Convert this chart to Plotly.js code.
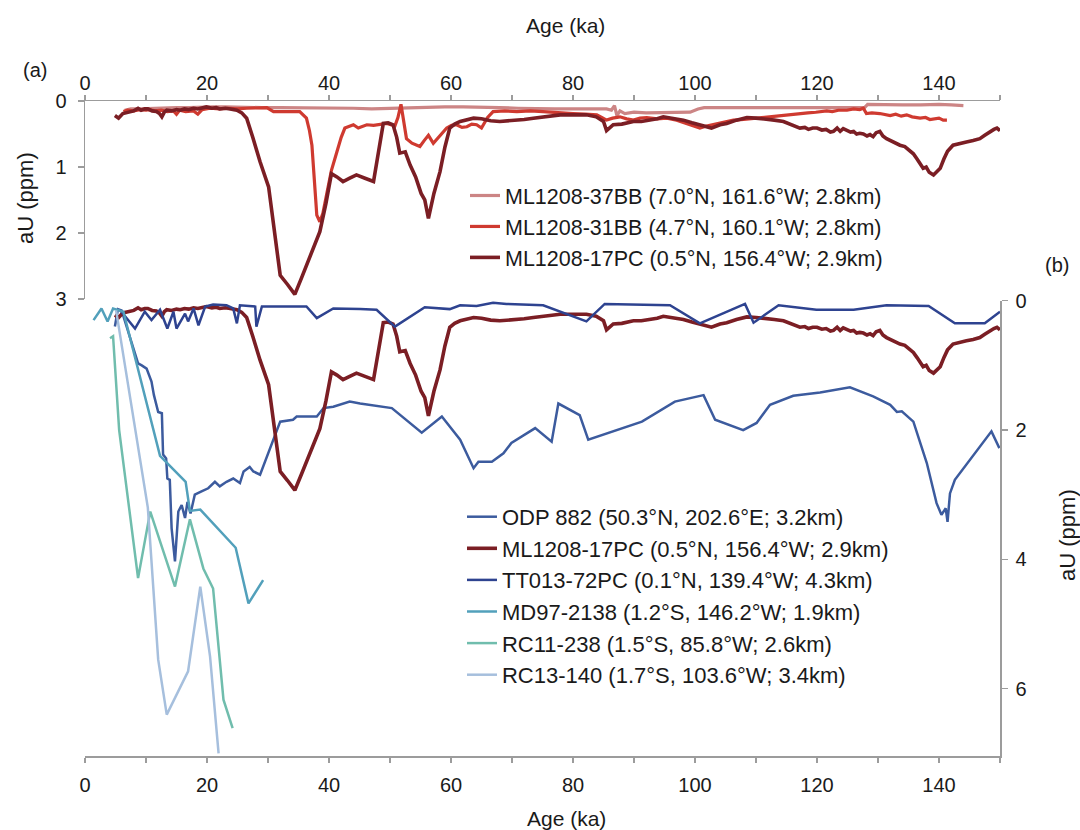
<!DOCTYPE html>
<html><head><meta charset="utf-8">
<script src="https://cdn.plot.ly/plotly-3.0.1.min.js"></script>
<style>html,body{margin:0;padding:0;background:#fff}#chart{width:1080px;height:830px}</style>
</head><body><div id="chart"></div>
<script>
// ---- Data: [age (ka), aU (ppm)] ----
const ml37BB = [[6.5,0.14],[7.5,0.12],[9.0,0.12],[11.0,0.11],[13.0,0.11],[15.0,0.1],[17.0,0.1],[19.0,0.09],[21.0,0.09],[23.0,0.09],[26.0,0.1],[29.0,0.1],[32.0,0.1],[35.0,0.1],[38.0,0.1],[41.0,0.11],[44.0,0.11],[47.0,0.12],[50.0,0.11],[53.0,0.1],[56.0,0.1],[59.0,0.09],[62.0,0.09],[65.0,0.09],[68.0,0.1],[71.0,0.11],[74.0,0.12],[77.0,0.12],[80.0,0.12],[83.0,0.12],[85.5,0.12],[86.3,0.14],[86.8,0.07],[87.2,0.22],[87.7,0.15],[88.5,0.19],[90.0,0.17],[92.0,0.18],[94.0,0.18],[96.0,0.18],[98.0,0.18],[99.2,0.17],[100.5,0.12],[101.5,0.1],[104.0,0.1],[107.0,0.1],[110.0,0.1],[113.0,0.1],[116.0,0.1],[119.0,0.1],[122.0,0.1],[125.0,0.1],[127.8,0.1],[128.3,0.05],[131.0,0.06],[134.0,0.06],[137.0,0.06],[140.0,0.05],[142.0,0.06],[144.0,0.07]];

const ml31BB = [[6.3,0.16],[7.0,0.14],[8.0,0.15],[9.0,0.13],[10.0,0.14],[10.5,0.13],[11.5,0.15],[12.5,0.14],[13.5,0.16],[14.5,0.15],[15.0,0.2],[15.5,0.14],[16.5,0.16],[17.8,0.15],[18.5,0.2],[19.2,0.13],[20.5,0.11],[22.0,0.12],[23.5,0.11],[25.0,0.12],[26.5,0.11],[28.0,0.1],[29.8,0.1],[30.9,0.16],[32.5,0.16],[34.0,0.16],[35.2,0.16],[36.3,0.26],[36.8,0.45],[37.2,0.67],[37.4,0.92],[37.7,1.22],[38.0,1.73],[38.5,1.83],[39.0,1.7],[39.6,1.42],[40.4,1.05],[41.3,0.77],[42.0,0.55],[42.6,0.41],[43.3,0.38],[44.0,0.36],[44.8,0.41],[45.5,0.38],[46.2,0.36],[47.3,0.37],[48.4,0.36],[49.5,0.34],[50.8,0.38],[51.3,0.25],[51.8,0.05],[52.3,0.35],[52.7,0.57],[53.6,0.64],[54.9,0.69],[55.6,0.6],[56.3,0.52],[57.1,0.64],[58.2,0.52],[59.3,0.41],[60.1,0.37],[60.9,0.36],[61.8,0.4],[62.6,0.39],[63.4,0.35],[64.2,0.36],[65.0,0.41],[66.0,0.25],[66.9,0.16],[68.8,0.15],[70.8,0.16],[73.0,0.15],[75.1,0.16],[77.5,0.18],[80.0,0.19],[82.0,0.2],[83.9,0.21],[84.7,0.25],[85.5,0.29],[86.5,0.26],[87.7,0.24],[88.8,0.27],[89.9,0.29],[91.0,0.26],[92.1,0.25],[93.8,0.27],[95.4,0.26],[97.0,0.29],[98.6,0.34],[99.7,0.38],[100.8,0.41],[101.9,0.38],[103.0,0.36],[104.5,0.33],[106.3,0.29],[108.0,0.28],[109.9,0.26],[111.7,0.25],[113.0,0.23],[114.5,0.21],[116.0,0.2],[117.2,0.19],[118.5,0.18],[119.8,0.17],[121.6,0.15],[122.5,0.16],[123.5,0.14],[124.9,0.14],[126.0,0.12],[127.0,0.13],[127.6,0.11],[128.1,0.19],[129.0,0.18],[130.3,0.19],[131.2,0.21],[132.0,0.22],[132.9,0.2],[133.8,0.23],[134.7,0.21],[135.6,0.24],[136.9,0.26],[137.8,0.25],[138.5,0.28],[139.1,0.27],[140.0,0.26],[140.7,0.29],[141.3,0.29]];

const ml17PC = [[4.9,0.22],[5.5,0.26],[6.2,0.19],[6.7,0.18],[7.4,0.16],[8.0,0.15],[8.7,0.11],[9.2,0.14],[9.8,0.12],[10.3,0.12],[11.0,0.15],[11.7,0.16],[12.2,0.19],[12.6,0.24],[13.0,0.17],[13.4,0.14],[14.2,0.15],[15.0,0.13],[15.6,0.14],[16.3,0.12],[17.0,0.13],[17.8,0.11],[18.5,0.12],[19.2,0.1],[19.9,0.09],[20.8,0.11],[21.5,0.1],[22.1,0.12],[23.0,0.11],[23.8,0.12],[24.9,0.14],[25.7,0.18],[26.5,0.26],[27.5,0.55],[28.7,0.92],[30.1,1.3],[31.0,1.9],[32.0,2.64],[33.2,2.78],[34.4,2.93],[35.5,2.68],[36.8,2.38],[38.5,1.98],[39.5,1.55],[40.4,1.1],[41.3,1.15],[42.3,1.22],[43.4,1.17],[44.5,1.12],[45.9,1.17],[47.3,1.22],[48.9,0.34],[49.7,0.33],[50.5,0.36],[51.1,0.55],[51.6,0.79],[52.5,0.77],[53.3,0.97],[54.2,1.15],[55.1,1.4],[55.7,1.5],[56.3,1.78],[57.2,1.4],[58.2,1.07],[59.0,0.7],[59.8,0.41],[60.6,0.35],[61.5,0.31],[62.6,0.28],[63.7,0.26],[65.0,0.27],[66.5,0.3],[68.0,0.31],[70.0,0.3],[72.0,0.28],[73.5,0.26],[75.5,0.24],[77.9,0.21],[80.0,0.21],[82.2,0.21],[83.8,0.24],[85.0,0.31],[85.5,0.45],[86.0,0.4],[86.6,0.36],[88.0,0.35],[89.9,0.31],[91.2,0.31],[92.6,0.29],[93.8,0.27],[94.8,0.24],[96.5,0.27],[98.1,0.29],[99.5,0.33],[100.8,0.36],[101.8,0.39],[102.7,0.41],[104.1,0.36],[105.2,0.34],[106.8,0.29],[108.5,0.25],[110.0,0.26],[111.7,0.27],[113.0,0.29],[114.5,0.31],[115.8,0.36],[117.2,0.41],[118.0,0.4],[118.6,0.43],[119.3,0.41],[120.0,0.41],[120.8,0.44],[121.5,0.43],[122.2,0.47],[122.7,0.46],[123.3,0.41],[123.8,0.46],[124.3,0.42],[124.9,0.44],[125.5,0.47],[126.0,0.46],[126.5,0.5],[127.0,0.49],[127.6,0.5],[128.2,0.53],[128.7,0.51],[129.2,0.54],[129.7,0.48],[130.3,0.46],[130.8,0.53],[131.4,0.57],[132.0,0.6],[132.8,0.63],[133.6,0.67],[134.4,0.69],[135.0,0.74],[135.8,0.8],[136.4,0.88],[137.0,0.97],[137.4,1.02],[137.9,1.0],[138.4,1.08],[139.1,1.12],[139.6,1.07],[140.2,1.02],[140.8,0.88],[141.4,0.76],[142.3,0.67],[143.4,0.64],[144.5,0.62],[145.6,0.6],[146.7,0.57],[147.5,0.52],[148.4,0.46],[149.0,0.43],[149.5,0.41],[150.0,0.45]];

const odp882 = [[4.9,0.4],[5.4,0.13],[6.0,0.15],[8.7,0.97],[9.3,1.0],[10.1,1.05],[10.9,1.25],[11.3,1.46],[12.0,1.72],[12.6,1.74],[12.8,2.38],[13.3,2.44],[13.5,2.75],[13.9,2.77],[14.2,3.52],[14.75,4.03],[15.3,3.26],[15.85,3.16],[16.4,3.36],[16.8,3.11],[17.3,3.29],[18.0,3.0],[19.1,2.95],[20.2,2.9],[21.3,2.8],[22.1,2.87],[23.2,2.8],[24.3,2.75],[25.4,2.82],[26.0,2.64],[27.0,2.57],[27.6,2.64],[28.7,2.69],[32.0,1.87],[34.1,1.84],[34.7,1.79],[38.0,1.79],[39.1,1.66],[40.7,1.64],[43.4,1.56],[45.1,1.59],[50.3,1.66],[55.2,2.04],[58.5,1.79],[61.5,2.15],[63.7,2.59],[64.5,2.49],[66.7,2.49],[68.6,2.36],[69.9,2.2],[73.8,1.97],[76.5,2.18],[77.6,1.59],[81.1,1.77],[82.5,2.15],[91.3,1.87],[96.7,1.56],[101.4,1.46],[103.3,1.84],[107.9,2.0],[110.1,1.89],[112.3,1.61],[116.1,1.47],[120.5,1.42],[125.4,1.34],[129.2,1.48],[132.0,1.61],[133.1,1.72],[133.9,1.71],[135.8,1.87],[138.0,2.51],[139.6,3.13],[140.4,3.31],[141.1,3.21],[141.4,3.42],[141.8,2.98],[142.6,2.77],[148.6,2.02],[149.9,2.28]];

const tt013 = [[5.7,0.14],[8.2,0.43],[9.8,0.17],[10.9,0.3],[12.3,0.14],[13.5,0.43],[14.5,0.17],[15.0,0.43],[16.4,0.2],[16.9,0.32],[17.8,0.12],[18.6,0.38],[19.7,0.09],[21.0,0.06],[23.2,0.07],[24.3,0.12],[24.9,0.35],[25.4,0.07],[27.9,0.09],[28.1,0.4],[29.0,0.09],[32.0,0.09],[36.3,0.09],[38.0,0.27],[40.7,0.12],[45.1,0.13],[47.8,0.14],[50.8,0.4],[55.7,0.1],[59.8,0.13],[61.5,0.07],[64.2,0.08],[66.9,0.03],[69.1,0.05],[75.1,0.07],[82.2,0.32],[85.2,0.05],[95.9,0.07],[100.8,0.35],[108.2,0.05],[109.6,0.34],[113.7,0.07],[119.9,0.14],[126.0,0.14],[131.4,0.07],[138.3,0.08],[142.6,0.35],[147.5,0.35],[150.0,0.17]];

const md97 = [[1.4,0.3],[2.7,0.12],[3.7,0.32],[4.6,0.12],[6.3,0.17],[12.3,2.4],[16.5,2.8],[17.2,3.25],[18.9,3.23],[24.7,3.82],[26.8,4.68],[29.2,4.32]];

const rc11 = [[4.1,0.58],[4.6,0.55],[5.6,2.0],[8.7,4.29],[10.7,3.26],[14.75,4.42],[17.2,3.38],[19.4,4.14],[21.0,4.45],[22.7,6.17],[24.2,6.61]];

const rc13 = [[5.1,0.15],[10.3,3.2],[12.0,5.55],[13.4,6.4],[16.9,5.73],[18.9,4.42],[20.5,5.5],[21.9,7.0]];

// ---- Labels / ticks ----
const namesTop = ['ML1208-37BB (7.0°N, 161.6°W; 2.8km)','ML1208-31BB (4.7°N, 160.1°W; 2.8km)','ML1208-17PC (0.5°N, 156.4°W; 2.9km)'];
const namesBottom = ['ODP 882 (50.3°N, 202.6°E; 3.2km)','ML1208-17PC (0.5°N, 156.4°W; 2.9km)','TT013-72PC (0.1°N, 139.4°W; 4.3km)','MD97-2138 (1.2°S, 146.2°W; 1.9km)','RC11-238 (1.5°S, 85.8°W; 2.6km)','RC13-140 (1.7°S, 103.6°W; 3.4km)'];
const ageTicks = [0,10,20,30,40,50,60,70,80,90,100,110,120,130,140,150];
const ageLabels = ['0','','20','','40','','60','','80','','100','','120','','140',''];
const topYTicks = [0,1,2,3];
const botYTicks = [0,2,4,6];

const FONT = 'Liberation Sans, Arial, Helvetica, sans-serif';
const AX = '#9c9c9c';
const xs = d => d.map(p => p[0]);
const ys = d => d.map(p => p[1]);

function tr(d, name, color, width, xa, ya, leg) {
  return {x: xs(d), y: ys(d), name: name, type: 'scatter', mode: 'lines',
    line: {color: color, width: width}, xaxis: xa, yaxis: ya, legend: leg, hoverinfo: 'skip'};
}

const data = [
  tr(ml37BB, namesTop[0], '#cc8585', 3.2, 'x2', 'y2', 'legend'),
  tr(ml31BB, namesTop[1], '#cf3a30', 3.2, 'x2', 'y2', 'legend'),
  tr(ml17PC, namesTop[2], '#7b1e24', 3.6, 'x2', 'y2', 'legend'),
  tr(odp882, namesBottom[0], '#3c5b9e', 2.5, 'x', 'y', 'legend2'),
  tr(ml17PC, namesBottom[1], '#7b1e24', 3.6, 'x', 'y', 'legend2'),
  tr(tt013, namesBottom[2], '#2e4390', 2.5, 'x', 'y', 'legend2'),
  tr(md97, namesBottom[3], '#52a0bb', 2.5, 'x', 'y', 'legend2'),
  tr(rc11, namesBottom[4], '#70bdad', 2.5, 'x', 'y', 'legend2'),
  tr(rc13, namesBottom[5], '#a6bfdd', 2.5, 'x', 'y', 'legend2')
];

const axCommon = {showgrid: false, zeroline: false, showline: true, linecolor: AX, linewidth: 1.5,
  ticks: 'outside', tickcolor: AX, tickwidth: 1.5, fixedrange: true,
  tickfont: {family: FONT, size: 20, color: '#1a1a1a'}};

function ann(text, x, y, size, extra) {
  return Object.assign({text: text, x: x, y: y, xref: 'paper', yref: 'paper', showarrow: false,
    xanchor: 'center', yanchor: 'middle', font: {family: FONT, size: size, color: '#1a1a1a'}}, extra || {});
}

const layout = {
  width: 1080, height: 830,
  margin: {l: 85, r: 80, t: 101, b: 74},
  paper_bgcolor: '#ffffff', plot_bgcolor: 'rgba(0,0,0,0)',
  font: {family: FONT, size: 20, color: '#1a1a1a'},
  showlegend: true,
  xaxis: Object.assign({}, axCommon, {domain: [0, 1], anchor: 'y', side: 'bottom', range: [0, 150],
    tickmode: 'array', tickvals: ageTicks, ticktext: ageLabels, ticklen: 5, ticklabelstandoff: 5}),
  yaxis: Object.assign({}, axCommon, {domain: [0, 0.6951], anchor: 'x', side: 'right', range: [7.04, 0],
    tickmode: 'array', tickvals: botYTicks, ticklen: 6, ticklabelstandoff: 4}),
  xaxis2: Object.assign({}, axCommon, {domain: [0, 1], anchor: 'y2', side: 'top', range: [0, 150],
    tickmode: 'array', tickvals: ageTicks, ticktext: ageLabels, ticklen: 5, ticklabelstandoff: -3}),
  yaxis2: Object.assign({}, axCommon, {domain: [0.6977, 1], anchor: 'x2', side: 'left', range: [3, 0],
    tickmode: 'array', tickvals: topYTicks, ticklen: 6, ticklabelstandoff: 7}),
  legend: {x: 0.4153, y: 0.887, xanchor: 'left', yanchor: 'top', bgcolor: 'rgba(0,0,0,0)',
    borderwidth: 0, tracegroupgap: 0, font: {family: FONT, size: 21.5, color: '#1a1a1a'}},
  legend2: {x: 0.412, y: 0.3971, xanchor: 'left', yanchor: 'top', bgcolor: 'rgba(0,0,0,0)',
    borderwidth: 0, tracegroupgap: 0, font: {family: FONT, size: 22, color: '#1a1a1a'}},
  annotations: [
    ann('Age (ka)', 0.5246, 1.116, 21),
    ann('Age (ka)', 0.5257, -0.0947, 21),
    ann('aU (ppm)', -0.0656, 0.8519, 22, {textangle: -90}),
    ann('aU (ppm)', 1.0732, 0.3374, 22, {textangle: -90}),
    ann('(a)', -0.0546, 1.0473, 20),
    ann('(b)', 1.0623, 0.7496, 20)
  ]
};

Plotly.newPlot('chart', data, layout, {staticPlot: true, displayModeBar: false});
</script></body></html>
